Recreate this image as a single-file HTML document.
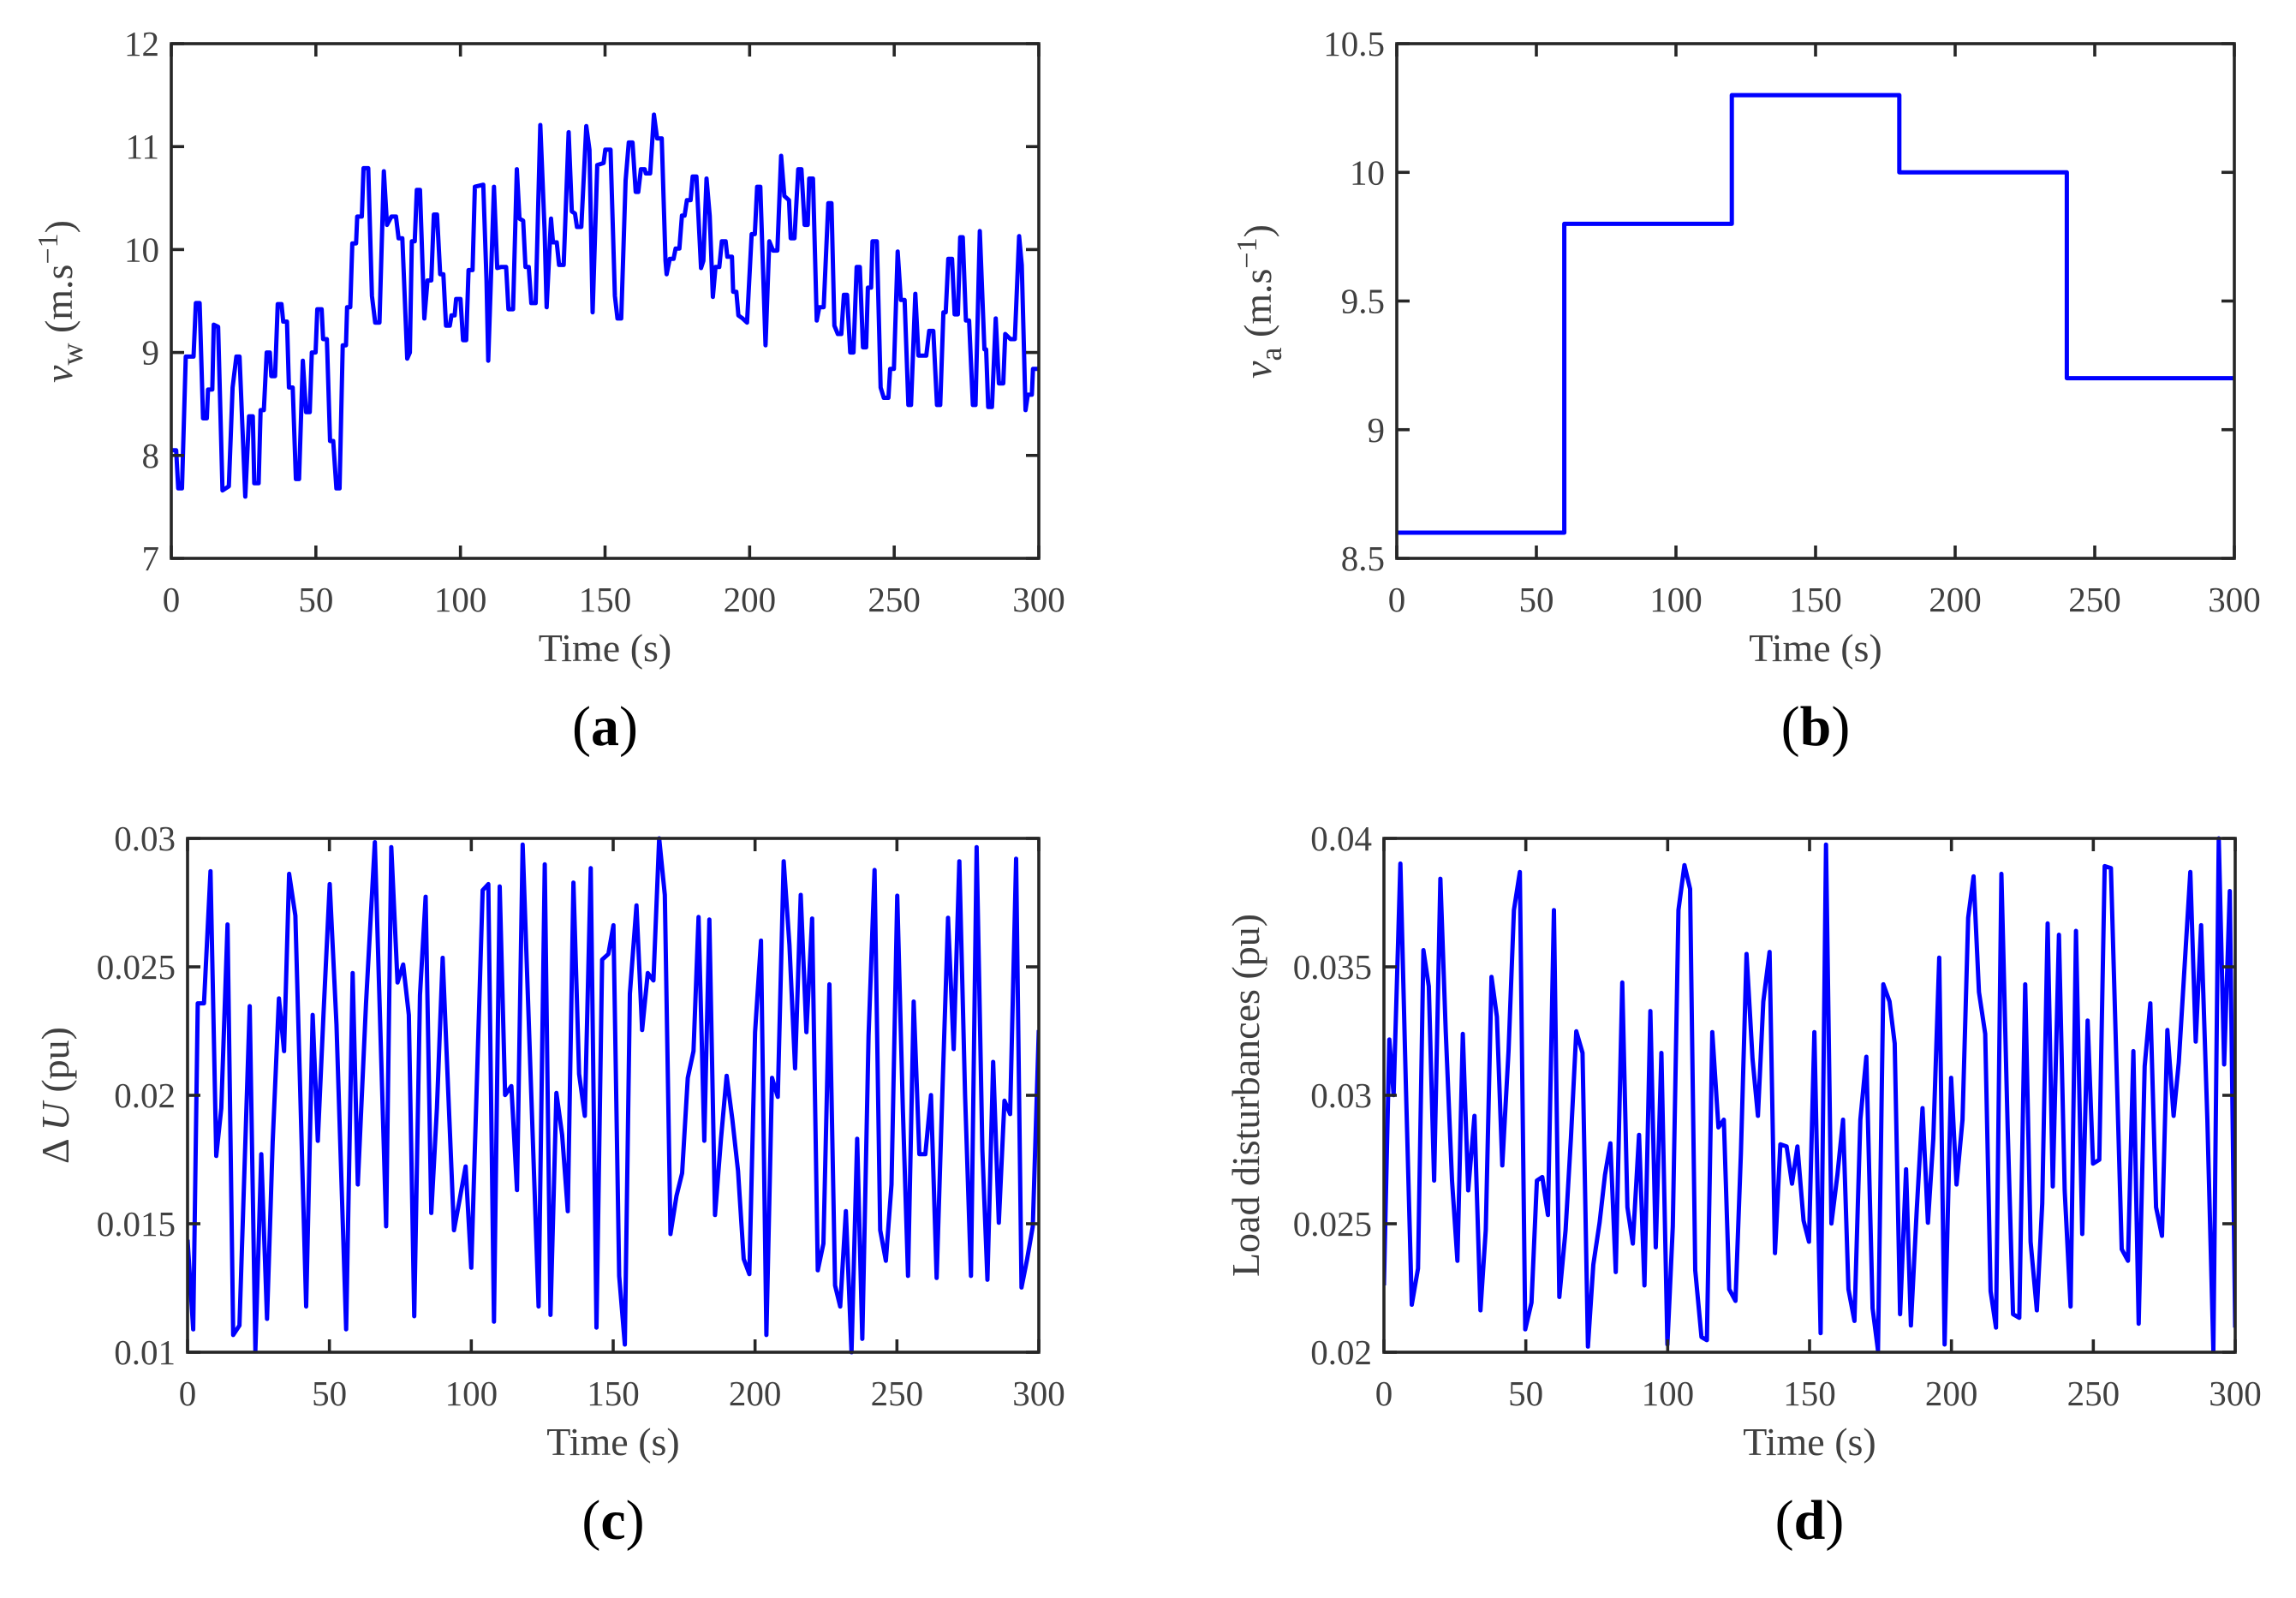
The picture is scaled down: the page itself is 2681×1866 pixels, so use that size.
<!DOCTYPE html>
<html><head><meta charset="utf-8">
<style>
html,body{margin:0;padding:0;background:#fff;}
svg{display:block;}
text{font-family:"Liberation Serif",serif;}
</style></head>
<body>
<svg id="fig" width="2681" height="1866" viewBox="0 0 2681 1866" xmlns="http://www.w3.org/2000/svg"></svg>
<script>
// Panel (a) wind speed
const timeA = [0,1.7,2.4,3.7,5,7.7,8.5,9.8,11,12.3,12.7,14.2,14.7,16.2,17.7,19.9,21.2,22.5,23.6,25.6,26.9,28.2,28.7,30.2,30.9,32,33,34.1,34.6,35.9,36.8,38.1,38.7,40,40.7,42,43.1,44.2,45.5,46.6,47.9,48.6,49.9,50.5,52,52.5,53.8,54.9,56,57.1,58.2,59.3,60.4,60.8,61.9,62.6,63.9,64.3,65.9,66.5,68.1,69.4,70.5,72,73.5,74.6,76.1,77.7,78.6,79.9,81.6,82.5,83.2,84.2,84.9,86,87.5,88.6,89.9,90.8,91.9,93,94.1,95,96.3,96.9,98,98.5,100,100.9,102,102.8,104.2,105,107.9,109,109.6,111.6,112.7,114,115.8,116.6,118.2,119.5,120.4,121.7,122.5,123.6,124.5,126,127.6,129.1,129.8,131.3,132,133.3,134.1,135.7,137.4,138.5,139.6,140.3,141.8,143.5,144.6,145.7,147.3,149.5,150.1,151.9,153.4,154.3,155.6,157.1,158.2,159.5,160.6,161.5,162.4,163.7,164.1,165.6,166.9,168,169.6,170.9,171.3,172.4,173.7,174.4,175.7,176.6,177.5,178.3,179.6,180.3,181.6,183.2,184,185.1,186.2,187.3,188.2,189.5,190.4,191.7,192.3,193.9,194.3,195.4,196.1,197.6,199.1,200.7,201.8,202.6,203.7,205.5,206.8,208.1,209.6,210.9,212,213.6,214.2,215.5,216.8,217.9,219,220.1,220.6,221.9,223.2,224.1,225.6,227.2,228.3,229.3,230.5,231.7,232.6,233.7,234.8,235.9,237,238.1,239.2,240.3,240.9,242,242.5,244,245.3,246.4,248,248.6,249.9,251.2,252.3,253.6,254.9,255.8,257.3,258.4,261.1,262.1,263.5,264.8,265.9,267,267.8,268.7,270,270.9,272,272.8,273.7,274.8,275.9,277.2,278.1,279.6,281.2,281.8,282.5,283.8,285.1,286.2,287.7,288.4,290.2,291.7,293.2,294.1,295.4,296.2,297.6,298,300];
const windA = [8.05,8.05,7.68,7.68,8.96,8.96,9.48,9.48,8.36,8.36,8.64,8.64,9.27,9.25,7.66,7.7,8.66,8.96,8.96,7.6,8.38,8.38,7.73,7.73,8.44,8.44,9.0,9.0,8.77,8.77,9.47,9.47,9.3,9.3,8.66,8.66,7.77,7.77,8.92,8.42,8.42,9.0,9.0,9.42,9.42,9.13,9.13,8.14,8.14,7.68,7.68,9.07,9.07,9.44,9.44,10.06,10.06,10.32,10.32,10.79,10.79,9.55,9.29,9.29,10.76,10.24,10.32,10.32,10.11,10.11,8.94,9.0,10.08,10.08,10.58,10.58,9.33,9.7,9.7,10.34,10.34,9.76,9.76,9.26,9.26,9.36,9.36,9.52,9.52,9.12,9.12,9.8,9.8,10.61,10.63,9.7,8.92,10.61,9.82,9.83,9.83,9.42,9.42,10.78,10.3,10.28,9.83,9.83,9.48,9.48,11.21,10.19,9.44,10.3,10.07,10.07,9.85,9.85,11.14,10.37,10.35,10.22,10.22,11.2,10.97,9.39,10.82,10.84,10.97,10.97,9.55,9.33,9.33,10.67,11.04,11.04,10.56,10.56,10.78,10.78,10.74,10.74,11.31,11.08,11.08,9.89,9.76,9.91,9.91,10.01,10.01,10.33,10.33,10.48,10.48,10.71,10.71,9.82,9.89,10.69,10.33,9.54,9.83,9.83,10.08,10.08,9.93,9.93,9.59,9.59,9.36,9.33,9.29,10.15,10.15,10.61,10.61,9.07,10.08,9.99,9.99,10.91,10.52,10.48,10.11,10.11,10.78,10.78,10.24,10.24,10.69,10.69,9.31,9.44,9.44,10.45,10.45,9.26,9.18,9.18,9.56,9.56,9.0,9.0,9.83,9.83,9.05,9.05,9.63,9.63,10.08,10.08,8.66,8.56,8.56,8.84,8.84,9.98,9.51,9.51,8.49,8.49,9.57,8.97,8.97,9.21,9.21,8.49,8.49,9.39,9.39,9.91,9.91,9.37,9.37,10.12,10.12,9.31,9.31,8.49,8.49,10.18,9.03,9.03,8.47,8.47,9.33,8.7,8.7,9.18,9.13,9.13,10.13,9.85,8.44,8.59,8.59,8.84,8.84];
// Panel (b) average wind speed steps
const stepTimesB = [0,60,120,180,240,300];
const stepValuesB = [8.6,9.8,10.3,10.0,9.2];
// Panel (c) delta U
const timeC = [0,2,3.6,5.8,8.1,10.1,11.9,14.1,16.1,18.3,21.9,23.9,26,28,30,32.2,34,35.8,38,41.8,44.1,45.9,47.9,50.1,52.5,55.9,58.2,60,62.9,66,70,71.8,74,76,78,79.9,81.9,83.9,85.9,87.9,89.9,93.9,95.9,98,100,104,106,108,110,111.9,114.1,116.1,118.1,123.7,125.9,127.9,130,132,134,136,138,140,142.1,144.1,146.1,148.3,150.1,152.1,154.1,155.9,158.2,160.2,162.2,164.2,166.2,168.2,170.2,172.3,174.3,176.3,178.3,180.1,182.1,183.9,185.9,188,190,192,194,196,198,200,202.1,204,206,208,210.1,212.1,214.1,216.1,218.1,220.1,222.1,224.1,226.2,228.2,230,232,234,236,237.8,240,242.1,244.1,246.1,248.1,250.1,252.1,253.9,255.9,257.9,260,262,264,266,268,270,272,274,276.1,278.1,280.1,281.9,283.9,285.9,287.9,289.9,292,293.9,295.9,297.9,300];
const deltaU = [0.01438,0.01089,0.02358,0.02358,0.02872,0.01764,0.0195,0.02665,0.01067,0.01104,0.02347,0.01007,0.01771,0.0113,0.01818,0.02377,0.02172,0.02862,0.02699,0.01178,0.02313,0.01823,0.02313,0.02822,0.02276,0.01089,0.02476,0.01653,0.02358,0.02985,0.0149,0.02966,0.02439,0.02509,0.02313,0.0114,0.0239,0.02773,0.01542,0.0195,0.02535,0.01475,0.01594,0.01723,0.01329,0.02798,0.02822,0.01119,0.02813,0.02001,0.02036,0.01631,0.02976,0.01178,0.02899,0.01145,0.02009,0.01846,0.01549,0.02828,0.02083,0.0192,0.02884,0.01096,0.02528,0.0255,0.02662,0.01297,0.0103,0.02395,0.02739,0.02254,0.02476,0.02447,0.03,0.0278,0.0146,0.01608,0.01697,0.02068,0.02172,0.02694,0.01823,0.02684,0.01534,0.01831,0.02076,0.01905,0.01705,0.01363,0.01304,0.02246,0.02602,0.01067,0.02068,0.01994,0.02911,0.02587,0.02105,0.0278,0.02246,0.02688,0.01319,0.01423,0.02432,0.0126,0.01178,0.01549,0.01,0.01831,0.01052,0.02231,0.02877,0.01475,0.01356,0.01653,0.02777,0.0194,0.01297,0.02365,0.01771,0.01771,0.02001,0.01289,0.0200,0.02691,0.0218,0.02911,0.0200,0.01297,0.02966,0.01786,0.01282,0.0213,0.01504,0.01979,0.01927,0.02921,0.01252,0.01363,0.0149,0.02254];
// Panel (d) load disturbances
const timeD = [0,1.9,3.4,5.8,7.7,9.8,12,13.9,15.8,17.7,19.9,21.8,24,25.9,27.8,29.7,31.9,34,35.9,37.9,39.8,41.7,43.9,45.8,47.9,49.8,52,53.9,55.8,57.8,59.9,61.8,64,65.9,67.8,70,71.9,73.8,76,77.9,79.8,81.7,84,85.8,87.7,89.9,91.8,93.9,95.8,97.8,99.9,101.8,103.8,105.9,107.9,109.7,111.9,113.8,115.7,117.9,119.8,121.7,123.9,125.8,127.8,129.9,131.8,133.7,135.9,137.8,139.7,141.9,143.8,145.7,147.9,149.8,151.7,153.9,155.8,157.7,159.8,161.8,163.7,165.8,167.9,170,172.2,174.1,176,178.2,180,181.9,184,185.7,187.8,189.8,191.7,193.6,195.7,197.6,199.9,201.8,203.9,205.9,207.8,209.7,211.9,213.8,215.7,217.6,219.8,221.7,223.9,226,227.9,230.1,232,233.9,235.7,237.9,239.9,242,243.9,246.1,248,249.9,252.1,254,256.2,258.1,260,262.2,264.1,266,268.1,270.1,272.1,274.2,276.1,278.3,280.1,284.2,286.1,288,290.2,292.3,294.2,296.1,298.1,300];
const loadD = [0.0226,0.03217,0.03001,0.03902,0.03053,0.02185,0.02326,0.03565,0.03424,0.02668,0.03843,0.03246,0.02668,0.02356,0.03239,0.0263,0.0292,0.02163,0.02475,0.03461,0.03306,0.02727,0.03172,0.03721,0.03869,0.02089,0.02193,0.02668,0.02682,0.02534,0.03721,0.02215,0.02475,0.02831,0.03249,0.03165,0.02022,0.02341,0.02504,0.0269,0.02813,0.02312,0.03439,0.02564,0.02423,0.02846,0.0226,0.03328,0.02408,0.03165,0.0203,0.0249,0.03721,0.03896,0.03803,0.02319,0.02059,0.02047,0.03246,0.02875,0.02905,0.02245,0.022,0.02772,0.0355,0.03142,0.0292,0.03365,0.03558,0.02386,0.02809,0.02801,0.02656,0.02801,0.02512,0.0243,0.03246,0.02074,0.03976,0.02501,0.0269,0.02905,0.02245,0.02122,0.02905,0.0315,0.02171,0.02007,0.03432,0.03365,0.03202,0.02148,0.02712,0.02104,0.02557,0.0295,0.02504,0.02831,0.03536,0.0203,0.03068,0.02653,0.02905,0.03691,0.03852,0.03402,0.03239,0.02237,0.02096,0.03862,0.02875,0.02148,0.02134,0.03432,0.0243,0.02163,0.02579,0.03669,0.02645,0.03625,0.0263,0.02178,0.0364,0.0246,0.03291,0.02734,0.02749,0.03892,0.03884,0.03142,0.02401,0.02356,0.03172,0.02111,0.03113,0.03358,0.02564,0.02453,0.03254,0.0292,0.03128,0.03869,0.03209,0.03662,0.02905,0.02007,0.04,0.0312,0.03795,0.02096];

const xTicks = [0,50,100,150,200,250,300];
const yTicksA = [7,8,9,10,11,12];
const yTicksB = [8.5,9,9.5,10,10.5];
const yTicksC = [0.01,0.015,0.02,0.025,0.03];
const yTicksD = [0.02,0.025,0.03,0.035,0.04];

const NS = 'http://www.w3.org/2000/svg';
const svg = document.getElementById('fig');
function mk(tag, attrs, parent){
  const e = document.createElementNS(NS, tag);
  for (const k in attrs) e.setAttribute(k, attrs[k]);
  (parent||svg).appendChild(e);
  return e;
}
function fmt(v){ return String(+v.toFixed(4)); }

function panel(id, box, xmin, xmax, ymin, ymax, yt, xs, ys, isStep){
  const g = mk('g', {});
  
  
  const X = v => box.l + (v - xmin) / (xmax - xmin) * (box.r - box.l);
  const Y = v => box.b - (v - ymin) / (ymax - ymin) * (box.b - box.t);
  let d = '';
  if (isStep){
    for (let i=0;i<ys.length;i++){
      d += (i===0?'M':'L') + X(xs[i]) + ',' + Y(ys[i]) + ' L' + X(xs[i+1]) + ',' + Y(ys[i]) + ' ';
    }
  } else {
    for (let i=0;i<xs.length;i++) d += (i===0?'M':'L') + X(xs[i]).toFixed(1) + ',' + Y(ys[i]).toFixed(1) + ' ';
  }
  const clip = mk('clipPath', {id:'clip'+id}, g);
  mk('rect', {x:box.l, y:box.t-3, width:box.r-box.l, height:box.b-box.t+6}, clip);
  const line = mk('path', {d:d, fill:'none', stroke:'#0000ff', 'stroke-width':5, 'stroke-linejoin':'round', 'clip-path':'url(#clip'+id+')'}, g);
  
  
  const fr = mk('rect', {x:box.l, y:box.t, width:box.r-box.l, height:box.b-box.t, fill:'none', stroke:'#262626', 'stroke-width':3.6}, g);
  
  
  const tl = 15;
  xTicks.forEach(v => {
    const x = X(v);
    mk('line', {x1:x, y1:box.b, x2:x, y2:box.b-tl, stroke:'#262626', 'stroke-width':3.6}, g);
    mk('line', {x1:x, y1:box.t, x2:x, y2:box.t+tl, stroke:'#262626', 'stroke-width':3.6}, g);
    const t = mk('text', {x:x, y:box.b+62, 'font-size':41, fill:'#404040', 'text-anchor':'middle'}, g);
    
    
    t.textContent = v;
  });
  yt.forEach(v => {
    const y = Y(v);
    mk('line', {x1:box.l, y1:y, x2:box.l+tl, y2:y, stroke:'#262626', 'stroke-width':3.6}, g);
    mk('line', {x1:box.r, y1:y, x2:box.r-tl, y2:y, stroke:'#262626', 'stroke-width':3.6}, g);
    const t = mk('text', {x:box.l-14, y:y+14, 'font-size':41, fill:'#404040', 'text-anchor':'end'}, g);
    
    
    t.textContent = fmt(v);
  });
  const xl = mk('text', {x:(box.l+box.r)/2, y:box.b+120, 'font-size':46, fill:'#404040', 'text-anchor':'middle'}, g);
  
  
  xl.textContent = 'Time (s)';
  const cap = mk('text', {x:(box.l+box.r)/2, y:box.b+218, 'font-size':66, fill:'#000', 'text-anchor':'middle'}, g);
  
  
  cap.innerHTML = '(<tspan font-weight="bold">' + id + '</tspan>)';
  return g;
}

const bA = {l:200,t:51,r:1213,b:652};
const bB = {l:1631,t:51,r:2609,b:652};
const bC = {l:219,t:979,r:1213,b:1579};
const bD = {l:1616,t:979,r:2610,b:1579};
panel('a', bA, 0, 300, 7, 12, yTicksA, timeA, windA, false);
panel('b', bB, 0, 300, 8.5, 10.5, yTicksB, stepTimesB, stepValuesB, true);
panel('c', bC, 0, 300, 0.01, 0.03, yTicksC, timeC, deltaU, false);
panel('d', bD, 0, 300, 0.02, 0.04, yTicksD, timeD, loadD, false);

function ylabel(x, y, html, name){
  const t = mk('text', {x:0, y:0, 'font-size':46, fill:'#404040', 'text-anchor':'middle', transform:'translate('+x+','+y+') rotate(-90)'});
  
  
  t.innerHTML = html;
}
ylabel(84, 352, '<tspan font-style="italic">v</tspan><tspan font-size="36" dy="12">w</tspan><tspan dy="-12"> (m.s</tspan><tspan font-size="34" dy="-17">−1</tspan><tspan dy="17">)</tspan>', 'y-axis-title-a');
ylabel(1484, 352, '<tspan font-style="italic">v</tspan><tspan font-size="36" dy="12">a</tspan><tspan dy="-12"> (m.s</tspan><tspan font-size="34" dy="-17">−1</tspan><tspan dy="17">)</tspan>', 'y-axis-title-b');
ylabel(80, 1279, 'Δ <tspan font-style="italic">U</tspan> (pu)', 'y-axis-title-c');
ylabel(1470, 1279, 'Load disturbances (pu)', 'y-axis-title-d');
</script>
</body></html>
